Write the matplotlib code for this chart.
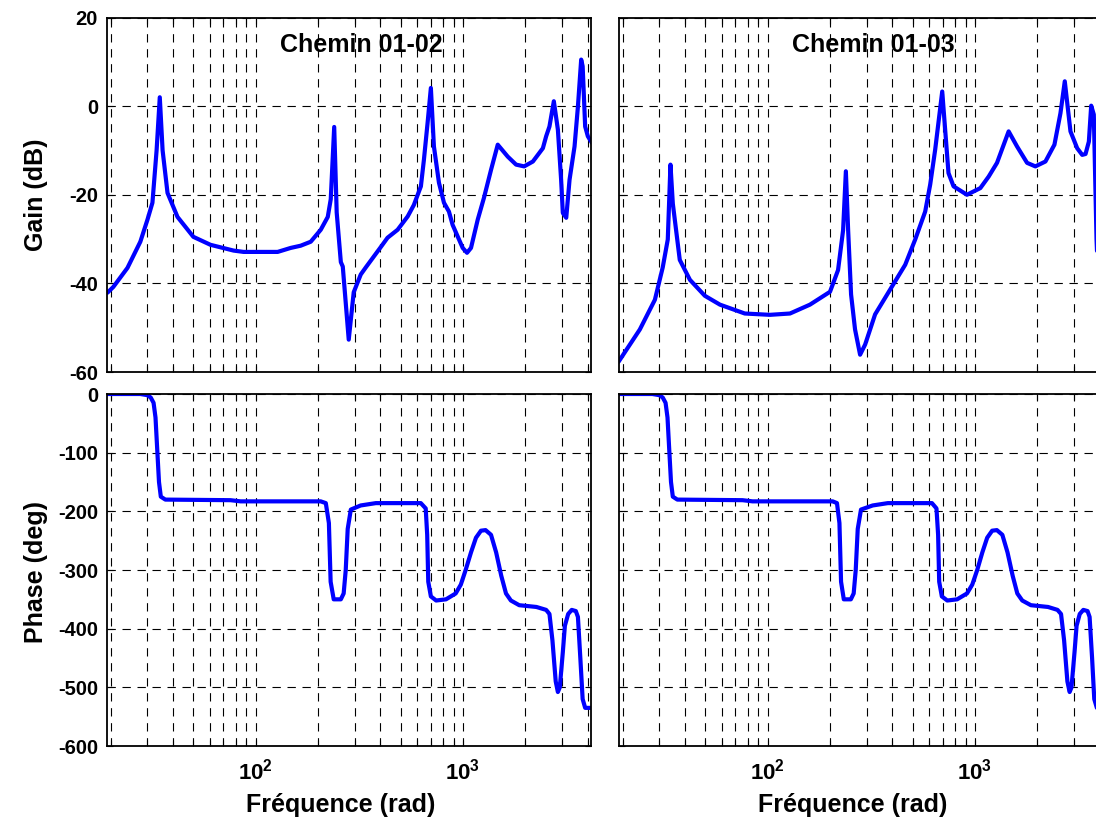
import numpy as np
import matplotlib
matplotlib.use("Agg")
import matplotlib.pyplot as plt
from matplotlib.ticker import FixedLocator, FixedFormatter, NullFormatter

plt.rcParams['font.family'] = ['Liberation Sans', 'DejaVu Sans']
plt.rcParams['font.weight'] = 'bold'
plt.rcParams['mathtext.fontset'] = 'custom'
plt.rcParams['mathtext.rm'] = 'Liberation Sans:bold'
plt.rcParams['mathtext.bf'] = 'Liberation Sans:bold'
plt.rcParams['mathtext.it'] = 'Liberation Sans:bold'

# ---------------- data ----------------
titles = ["Chemin 01-02", "Chemin 01-03"]

# Chemin 01-02 : gain
f_g12 = [19.3, 20.6, 24.1, 27.8, 30.1, 31.8, 33.3, 34.5, 35.6, 37.6, 42.0, 50.1, 60.6, 78.3,
         87.5, 127.7, 147.6, 164.9, 184.4, 206.1, 222.8, 230.3, 239.3, 246.0, 257.6, 263.2,
         281.2, 297.2, 321.3, 339.8, 401.5, 432.7, 483.9, 541.0, 579.6, 626.6, 648.0, 674.9,
         700.0, 724.1, 765.8, 809.6, 855.7, 891.3, 942.4, 996.9, 1045.7, 1093.0, 1178.0,
         1262.0, 1365.0, 1471.0, 1644.0, 1803.0, 1972.0, 2173.0, 2428.0, 2518.0, 2612.0,
         2742.0, 2868.0, 2973.0, 3030.0, 3147.0, 3265.0, 3451.0, 3583.0, 3715.0, 3776.0,
         3883.0, 4000.0, 4185.0]
g12 = [-42.1, -40.8, -36.5, -30.6, -25.6, -21.8, -10.0, 2.0, -10.0, -19.6, -25.0, -29.5,
       -31.3, -32.6, -32.9, -32.9, -32.0, -31.5, -30.6, -27.9, -25.0, -21.0, -4.7, -24.0,
       -35.2, -36.2, -52.7, -42.0, -38.0, -36.4, -31.8, -29.7, -27.9, -24.9, -22.3, -18.1,
       -12.1, -3.8, 4.1, -9.1, -17.3, -21.8, -23.8, -26.8, -29.4, -32.0, -33.1, -32.0,
       -25.6, -20.7, -14.4, -8.7, -11.4, -13.2, -13.6, -12.5, -9.5, -6.8, -4.6, 1.1, -5.3,
       -16.6, -24.1, -25.2, -16.6, -9.1, -0.1, 10.5, 9.0, -4.6, -6.8, -8.3]

# Chemin 01-02 : phase
f_p12 = [19.3, 27.8, 30.1, 31.2, 32.2, 32.9, 33.6, 34.2, 34.9, 36.7, 75.7, 84.6, 206.0,
         218.0, 225.6, 230.0, 238.0, 257.6, 265.8, 272.0, 278.0, 287.8, 321.0, 380.0, 626.0,
         661.0, 672.0, 680.0, 700.0, 742.0, 828.0, 922.0, 976.0, 1030.0, 1093.0, 1155.0,
         1221.0, 1285.0, 1365.0, 1445.0, 1530.0, 1612.0, 1702.0, 1867.0, 2259.0, 2518.0,
         2612.0, 2700.0, 2800.0, 2868.0, 2930.0, 3030.0, 3100.0, 3215.0, 3345.0, 3500.0,
         3583.0, 3680.0, 3776.0, 3883.0, 4185.0]
p12 = [0, 0, -2, -6, -15, -40, -100, -150, -175, -180, -181, -183, -183, -186, -220, -320,
       -350, -350, -340, -300, -230, -197, -190, -186, -186, -195, -240, -320, -345, -352,
       -350, -340, -325, -300, -270, -245, -233, -232, -240, -270, -310, -340, -352, -360,
       -363, -368, -375, -420, -490, -508, -500, -440, -395, -375, -368, -370, -380, -450,
       -520, -535, -535]

# Chemin 01-03 : gain
f_g13 = [19.1, 24.2, 28.6, 31.2, 33.0, 34.0, 34.9, 37.7, 42.2, 49.8, 58.9, 77.6, 102.6,
         128.2, 160.0, 199.9, 218.6, 231.2, 238.4, 244.5, 252.6, 264.0, 279.2, 295.3, 329.8,
         389.8, 460.8, 514.8, 575.2, 608.1, 642.8, 695.0, 745.1, 788.1, 914.6, 1061.0,
         1164.0, 1277.0, 1453.0, 1595.0, 1783.0, 1955.0, 2186.0, 2416.0, 2583.0, 2710.0,
         2887.0, 3110.0, 3289.0, 3413.0, 3541.0, 3634.0, 3741.0, 3855.0, 3950.0, 4185.0]
g13 = [-57.7, -50.4, -43.7, -36.4, -30.1, -13.2, -22.0, -34.7, -39.2, -42.8, -44.8, -46.8,
       -47.1, -46.8, -44.8, -41.9, -37.0, -28.0, -14.7, -28.0, -42.5, -50.4, -56.1, -53.8,
       -47.0, -41.4, -35.8, -30.1, -23.8, -17.7, -9.8, 3.3, -15.1, -18.1, -20.0, -18.5,
       -15.9, -12.8, -5.7, -9.1, -12.8, -13.6, -12.5, -8.7, -1.6, 5.6, -5.7, -9.5, -11.0,
       -10.8, -8.0, 0.1, -1.9, -30.0, -42.0, -45.0]

# Chemin 01-03 : phase
f_p13 = [19.1, 27.8, 30.1, 31.2, 32.2, 32.9, 33.6, 34.2, 34.9, 36.7, 75.7, 84.6, 206.0,
         216.0, 222.0, 226.0, 233.0, 252.0, 260.0, 266.0, 272.0, 282.0, 321.0, 380.0, 620.0,
         652.0, 664.0, 672.0, 692.0, 735.0, 820.0, 915.0, 970.0, 1025.0, 1085.0, 1145.0,
         1210.0, 1275.0, 1355.0, 1435.0, 1520.0, 1600.0, 1690.0, 1860.0, 2250.0, 2500.0,
         2600.0, 2690.0, 2790.0, 2860.0, 2920.0, 3020.0, 3090.0, 3200.0, 3330.0, 3490.0,
         3570.0, 3670.0, 3760.0, 3870.0, 4185.0]
p13 = [0, 0, -2, -6, -15, -40, -100, -150, -175, -180, -181, -183, -183, -186, -220, -320,
       -350, -350, -340, -300, -230, -197, -190, -186, -186, -195, -240, -320, -345, -352,
       -350, -340, -325, -300, -270, -245, -233, -232, -240, -270, -310, -340, -352, -360,
       -363, -368, -375, -420, -490, -508, -500, -440, -395, -375, -368, -370, -380, -450,
       -520, -535, -535]

gain_ticks = [20, 0, -20, -40, -60]
phase_ticks = [0, -100, -200, -300, -400, -500, -600]
x_major = [100, 1000]
x_major_labels = [r'$\mathbf{10^{2}}$', r'$\mathbf{10^{3}}$']
x_minor = [20, 30, 40, 50, 60, 70, 80, 90, 200, 300, 400, 500, 600, 700, 800, 900,
           2000, 3000, 4000]

XLIM = (19.2, 4120)

# ---------------- figure ----------------
W, H = 1096, 823
fig = plt.figure(figsize=(W / 100, H / 100), dpi=100)

def box(x0, x1, y0, y1):
    return [x0 / W, 1 - y1 / H, (x1 - x0) / W, (y1 - y0) / H]

axes_pos = {
    (0, 0): box(107, 590.5, 17.5, 372),
    (1, 0): box(107, 590.5, 394, 746),
    (0, 1): box(619, 1102.5, 17.5, 372),
    (1, 1): box(619, 1102.5, 394, 746),
}

dash = (0, (7.5, 6.0))

def style(ax, yticks, ylim, xlabels):
    ax.set_xscale('log')
    ax.set_xlim(*XLIM)
    ax.set_ylim(*ylim)
    ax.xaxis.set_major_locator(FixedLocator(x_major))
    ax.xaxis.set_minor_locator(FixedLocator(x_minor))
    ax.xaxis.set_minor_formatter(NullFormatter())
    if xlabels:
        ax.xaxis.set_major_formatter(FixedFormatter(x_major_labels))
    else:
        ax.xaxis.set_major_formatter(NullFormatter())
    ax.set_yticks(yticks)
    ax.yaxis.set_minor_locator(FixedLocator([]))
    ax.tick_params(which='both', direction='in', top=True, right=True,
                   length=4, width=0.8, colors='black')
    ax.tick_params(axis='y', labelsize=14.5, pad=6.5)
    ax.tick_params(axis='x', labelsize=16, pad=9)
    for lab in ax.get_yticklabels():
        lab.set_fontweight('bold')
    ax.grid(True, which='both', axis='x', color='black', linestyle=dash, linewidth=0.8)
    ax.grid(True, which='major', axis='y', color='black', linestyle=dash, linewidth=0.8)
    ax.set_axisbelow(True)
    for s in ax.spines.values():
        s.set_linewidth(1.3)
        s.set_zorder(5)

data = {
    0: (f_g12, g12, f_p12, p12),
    1: (f_g13, g13, f_p13, p13),
}

for col in range(2):
    fg, gv, fp, pv = data[col]
    axg = fig.add_axes(axes_pos[(0, col)])
    axp = fig.add_axes(axes_pos[(1, col)])
    axg.plot(fg, gv, color='#0000ff', linewidth=3.0, solid_joinstyle='round',
             solid_capstyle='round', zorder=3)
    axp.plot(fp, pv, color='#0000ff', linewidth=3.0, solid_joinstyle='round',
             solid_capstyle='round', zorder=3)
    style(axg, gain_ticks, (-60, 20), False)
    style(axp, phase_ticks, (-600, 0), True)
    axg.text(0.525, 0.922, titles[col], transform=axg.transAxes, ha='center',
             va='center', fontsize=18, fontweight='bold')
    if col == 0:
        axg.set_yticklabels([str(t) for t in gain_ticks])
        axp.set_yticklabels([str(t) for t in phase_ticks])
    else:
        axg.set_yticklabels([])
        axp.set_yticklabels([])

fig.text(36 / W, 1 - 195 / H, 'Gain (dB)', rotation=90, ha='center', va='center',
         fontsize=18, fontweight='bold')
fig.text(36 / W, 1 - 572 / H, 'Phase (deg)', rotation=90, ha='center', va='center',
         fontsize=18, fontweight='bold')
fig.text(341 / W, 1 - 805 / H, 'Fréquence (rad)', ha='center', va='center',
         fontsize=18, fontweight='bold')
fig.text(853 / W, 1 - 805 / H, 'Fréquence (rad)', ha='center', va='center',
         fontsize=18, fontweight='bold')

fig.savefig('out.png', dpi=100)
